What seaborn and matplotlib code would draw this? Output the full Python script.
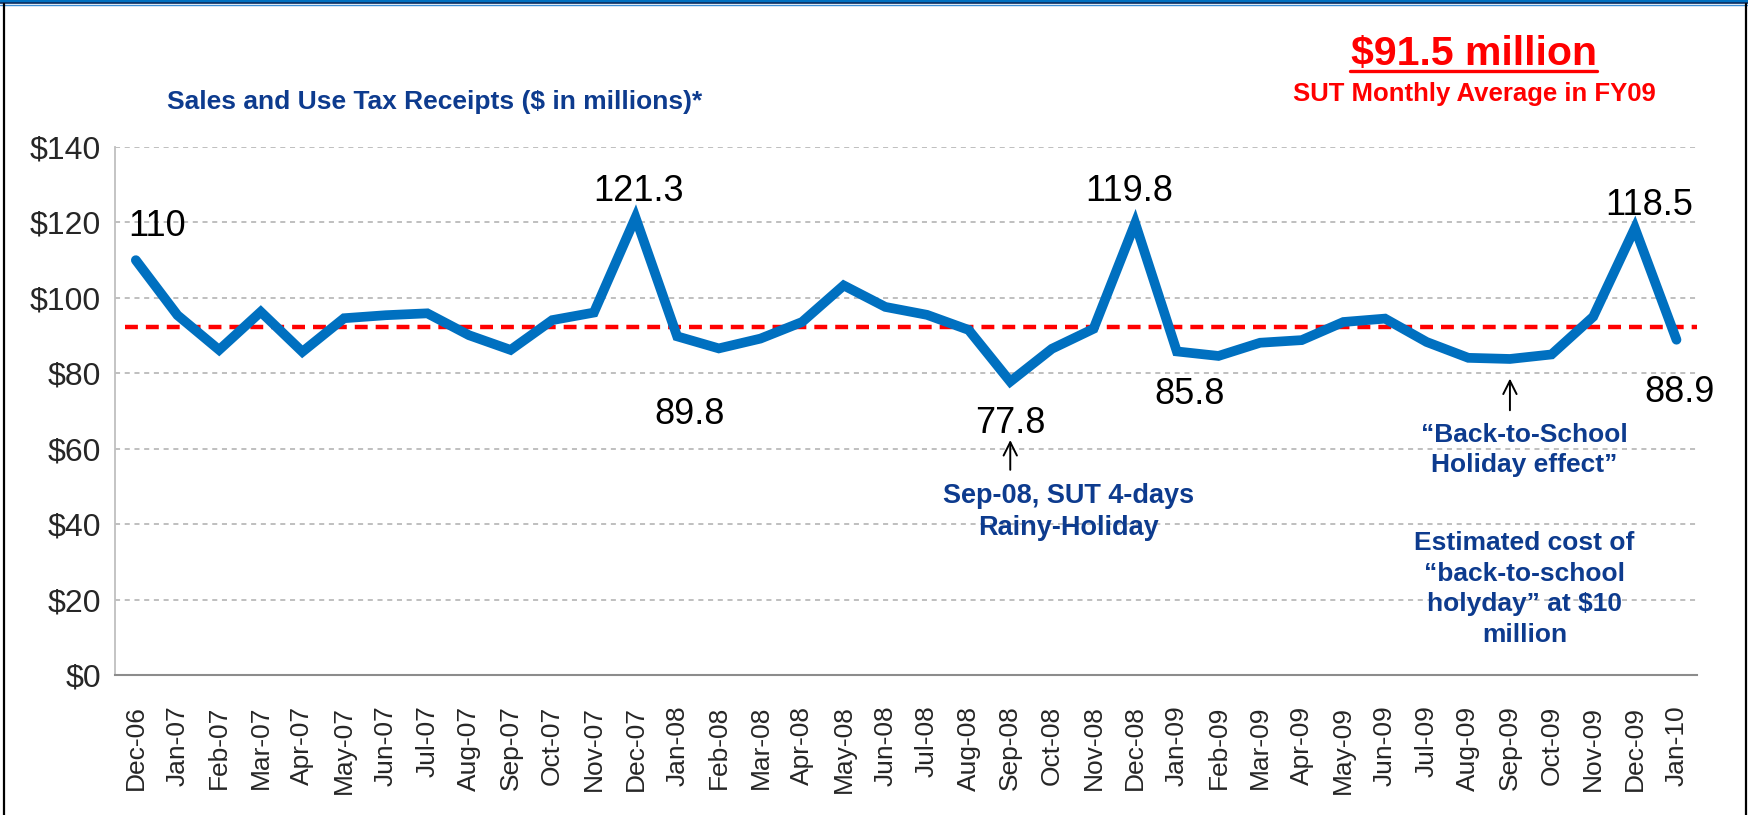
import matplotlib
matplotlib.use("Agg")
import matplotlib.pyplot as plt
import seaborn as sns
import pandas as pd
from matplotlib.lines import Line2D

# Monthly SUT receipts, $ in millions
months = ["Dec-06", "Jan-07", "Feb-07", "Mar-07", "Apr-07", "May-07", "Jun-07", "Jul-07",
          "Aug-07", "Sep-07", "Oct-07", "Nov-07", "Dec-07", "Jan-08", "Feb-08", "Mar-08",
          "Apr-08", "May-08", "Jun-08", "Jul-08", "Aug-08", "Sep-08", "Oct-08", "Nov-08",
          "Dec-08", "Jan-09", "Feb-09", "Mar-09", "Apr-09", "May-09", "Jun-09", "Jul-09",
          "Aug-09", "Sep-09", "Oct-09", "Nov-09", "Dec-09", "Jan-10"]
receipts = [110.0, 95.4, 86.2, 96.3, 85.7, 94.6, 95.4, 95.9,
            90.1, 86.2, 94.1, 96.1, 121.3, 89.8, 86.6, 89.2,
            93.6, 103.3, 97.6, 95.5, 91.5, 77.8, 86.5, 91.8,
            119.8, 85.8, 84.6, 88.1, 88.8, 93.6, 94.5, 88.3,
            84.1, 83.8, 85.0, 95.0, 118.5, 88.9]
fy09_avg_line = 92.2

labelled = ["Dec-06", "Dec-07", "Jan-08", "Sep-08", "Dec-08", "Jan-09", "Dec-09", "Jan-10"]
label_text = ["110", "121.3", "89.8", "77.8", "119.8", "85.8", "118.5", "88.9"]
label_offsets = [(15, 24), (2, 19), (9, -56), (0, -30), (-4, 23), (9, -31), (10, 16), (2, -38)]

df = pd.DataFrame({"month": months, "receipts": receipts})
df["pos"] = range(len(df))

sns.set_style("white")
plt.rcParams["font.family"] = ["Liberation Sans", "DejaVu Sans"]

navy = "#0D3B8E"
blue = "#0070C0"

fig = plt.figure(figsize=(17.48, 8.15), dpi=100)
ax = fig.add_axes([0.0658, 0.1718, 0.9052, 0.6478])

ax.axhline(fy09_avg_line, xmin=0.006, xmax=1.0, color="#FF0000", lw=3.2,
           dashes=(2.9, 1.8), zorder=2)
sns.lineplot(data=df, x="pos", y="receipts", ax=ax, color=blue, lw=7,
             solid_joinstyle="miter", solid_capstyle="round", zorder=3)

ax.set_xlim(-0.5, len(months) - 0.5)
ax.set_ylim(0, 140)
ax.set_yticks(range(0, 141, 20))
ax.set_yticklabels([f"${v}" for v in range(0, 141, 20)], fontsize=23)
ax.set_xticks(range(len(months)))
ax.set_xticklabels(months, rotation=90, fontsize=19)
ax.set_xlabel("")
ax.set_ylabel("")

for v in range(20, 141, 20):
    ax.axhline(v, color="#BFBFBF", lw=1.4, dashes=(2.6, 2.4), zorder=1)
for s in ["top", "right"]:
    ax.spines[s].set_visible(False)
ax.spines["left"].set_color("#BFBFBF")
ax.spines["bottom"].set_color("#8C8C8C")
ax.spines["left"].set_linewidth(1.3)
ax.spines["bottom"].set_linewidth(1.5)
ax.tick_params(axis="y", length=6, color="#BFBFBF", pad=4)
ax.set_xticks([p - 0.5 for p in range(len(months) + 1)], minor=True)
ax.tick_params(axis="x", which="major", length=0, pad=22)
ax.tick_params(axis="x", which="minor", length=8, color="#8C8C8C")

# data labels
for m, t, off in zip(labelled, label_text, label_offsets):
    i = months.index(m)
    ax.annotate(t, xy=(i, receipts[i]), xytext=off, textcoords="offset points",
                ha="center", va="center", fontsize=26, color="black")

# annotations
sep08 = months.index("Sep-08")
sep09 = months.index("Sep-09")
arrow = dict(arrowstyle="->", color="black", lw=1.4, mutation_scale=24, shrinkA=0, shrinkB=0)
ax.annotate("", xy=(sep08, 62.3), xytext=(sep08, 54.4), arrowprops=arrow)
ax.text(sep08 + 1.4, 43.2, "Sep-08, SUT 4-days\nRainy-Holiday", ha="center", va="center",
        fontsize=19.5, fontweight="bold", color=navy, linespacing=1.3)
ax.annotate("", xy=(sep09, 78.6), xytext=(sep09, 70.2), arrowprops=arrow)
ax.text(sep09 + 0.35, 59.6, "\u201cBack-to-School\nHoliday effect\u201d", ha="center",
        va="center", fontsize=19, fontweight="bold", color=navy, linespacing=1.3)
ax.text(sep09 + 0.35, 22.8, "Estimated cost of\n\u201cback-to-school\nholyday\u201d at $10\nmillion",
        ha="center", va="center", fontsize=19, fontweight="bold", color=navy,
        linespacing=1.35)

# headings
fig.text(167 / 1748, 1 - 102 / 815, "Sales and Use Tax Receipts ($ in millions)*",
         ha="left", va="center", fontsize=19, fontweight="bold", color=navy)
fig.text(1474 / 1748, 1 - 54 / 815, "$91.5 million", ha="center", va="center",
         fontsize=29.5, fontweight="bold", color="#FF0000")
fig.add_artist(Line2D([1350 / 1748, 1597 / 1748], [1 - 71 / 815, 1 - 71 / 815],
                      color="#FF0000", lw=2.4))
fig.text(1474 / 1748, 1 - 94 / 815, "SUT Monthly Average in FY09", ha="center", va="center",
         fontsize=18.5, fontweight="bold", color="#FF0000")

# slide frame
fig.add_artist(Line2D([0, 1], [1 - 1 / 815, 1 - 1 / 815], color=blue, lw=2.2))
fig.add_artist(Line2D([0, 1], [1 - 3 / 815, 1 - 3 / 815], color="#0B2C5E", lw=1.2))
fig.add_artist(Line2D([0, 1], [1 - 4.5 / 815, 1 - 4.5 / 815], color="#3A8DD6", lw=1.0))
fig.add_artist(Line2D([4 / 1748, 4 / 1748], [0, 1 - 4 / 815], color="black", lw=1.6))
fig.add_artist(Line2D([1746 / 1748, 1746 / 1748], [0, 1 - 4 / 815], color="black", lw=1.6))

fig.savefig("out.png", dpi=100)
